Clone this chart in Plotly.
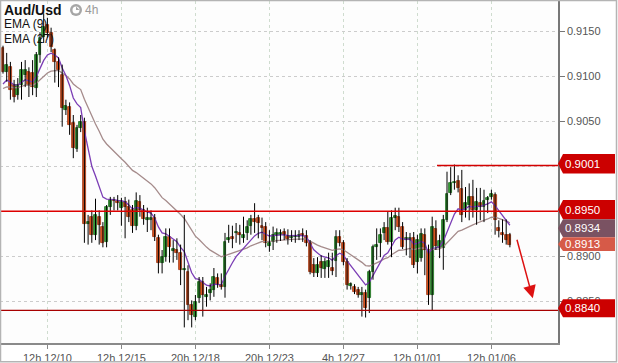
import plotly.graph_objects as go

# ---------------- data ----------------
tick_idx = [12, 32, 52, 72, 92, 112, 132]
tick_text = ["12h 12/10", "12h 12/15", "20h 12/18", "20h 12/23", "4h 12/27", "12h 01/01", "12h 01/06"]

opens = [
    .9131, .9105, .9110, .9090, .9079, .9090, .9101, .9105, .9104, .9087,
    .9124, .9144, .9157, .9148, .9129, .9116, .9101, .9063, .9066, .9048,
    .9019, .9043, .9049, .8936, .8944, .8924, .8944, .8933, .8916, .8955,
    .8963, .8962, .8954, .8960, .8955, .8951, .8934, .8960, .8951, .8941,
    .8940, .8943, .8920, .8893, .8899, .8921, .8906, .8907, .8904, .8885,
    .8883, .8846, .8833, .8854, .8871, .8855, .8859, .8863, .8876, .8868,
    .8866, .8918, .8921, .8926, .8926, .8920, .8926, .8934, .8941, .8943,
    .8934, .8933, .8911, .8916, .8924, .8924, .8927, .8923, .8920, .8921,
    .8921, .8924, .8923, .8915, .8890, .8881, .8894, .8886, .8888, .8887,
    .8895, .8921, .8915, .8894, .8867, .8866, .8863, .8857, .8859, .8854,
    .8883, .8910, .8915, .8926, .8931, .8916, .8943, .8944, .8933, .8918,
    .8918, .8920, .8894, .8898, .8924, .8907, .8857, .8930, .8909, .8909,
    .8940, .8970, .8981, .8984, .8975, .8951, .8957, .8966, .8951, .8959,
    .8955, .8963, .8966, .8968, .8931, .8926, .8924, .8924]

highs = [
    .9134, .9126, .9116, .9096, .9098, .9116, .9118, .9110, .9118, .9127,
    .9149, .9170, .9165, .9154, .9131, .9121, .9113, .9074, .9071, .9057,
    .9046, .9057, .9054, .8946, .8951, .8964, .8951, .8938, .8957, .8966,
    .8966, .8968, .8965, .8966, .8963, .8957, .8971, .8968, .8957, .8954,
    .8951, .8947, .8924, .8907, .8931, .8931, .8918, .8920, .8913, .8946,
    .8890, .8851, .8857, .8877, .8877, .8866, .8870, .8887, .8881, .8881,
    .8926, .8935, .8934, .8937, .8935, .8944, .8940, .8946, .8959, .8946,
    .8943, .8938, .8929, .8933, .8931, .8930, .8931, .8930, .8929, .8929,
    .8929, .8931, .8929, .8918, .8898, .8899, .8901, .8898, .8904, .8904,
    .8929, .8929, .8918, .8898, .8871, .8869, .8866, .8866, .8863, .8885,
    .8913, .8931, .8931, .8938, .8950, .8951, .8954, .8954, .8938, .8927,
    .8926, .8927, .8924, .8931, .8931, .8913, .8944, .8940, .8924, .8946,
    .8994, .8999, .9002, .8990, .8996, .8977, .8981, .8985, .8976, .8976,
    .8974, .8967, .8974, .8971, .8940, .8941, .8941, .8926]

lows = [
    .9103, .9094, .9074, .9071, .9074, .9074, .9088, .9077, .9079, .9077,
    .9115, .9137, .9143, .9127, .9093, .9088, .9044, .9057, .9035, .9009,
    .9016, .9038, .8915, .8913, .8915, .8918, .8913, .8910, .8910, .8946,
    .8951, .8951, .8934, .8920, .8938, .8926, .8929, .8944, .8935, .8927,
    .8929, .8917, .8881, .8881, .8894, .8893, .8893, .8896, .8868, .8821,
    .8829, .8821, .8829, .8848, .8833, .8844, .8851, .8855, .8865, .8863,
    .8854, .8915, .8909, .8915, .8913, .8915, .8918, .8924, .8926, .8920,
    .8918, .8910, .8905, .8907, .8915, .8917, .8918, .8913, .8916, .8915,
    .8918, .8916, .8911, .8880, .8877, .8877, .8876, .8876, .8876, .8879,
    .8877, .8911, .8890, .8863, .8863, .8858, .8854, .8833, .8832, .8837,
    .8874, .8896, .8899, .8918, .8913, .8899, .8929, .8927, .8908, .8901,
    .8898, .8887, .8881, .8894, .8879, .8846, .8840, .8907, .8898, .8885,
    .8938, .8968, .8974, .8971, .8938, .8943, .8940, .8943, .8935, .8940,
    .8938, .8948, .8963, .8924, .8921, .8915, .8913, .8910]

closes = [
    .9105, .9113, .9085, .9077, .9090, .9107, .9107, .9090, .9088, .9124,
    .9143, .9155, .9148, .9133, .9116, .9107, .9065, .9067, .9046, .9020,
    .9043, .9049, .8936, .8938, .8924, .8946, .8935, .8915, .8955, .8963,
    .8961, .8959, .8960, .8955, .8944, .8934, .8961, .8951, .8941, .8942,
    .8943, .8921, .8893, .8899, .8921, .8910, .8908, .8904, .8885, .8886,
    .8846, .8835, .8849, .8871, .8857, .8857, .8863, .8877, .8868, .8866,
    .8916, .8920, .8919, .8927, .8924, .8924, .8933, .8941, .8938, .8937,
    .8932, .8915, .8915, .8924, .8926, .8926, .8924, .8919, .8923, .8923,
    .8924, .8923, .8915, .8883, .8881, .8890, .8887, .8894, .8895, .8884,
    .8921, .8915, .8894, .8868, .8869, .8860, .8857, .8859, .8843, .8883,
    .8910, .8913, .8924, .8931, .8916, .8943, .8944, .8933, .8910, .8920,
    .8920, .8890, .8918, .8925, .8907, .8857, .8933, .8911, .8917, .8940,
    .8969, .8981, .8983, .8976, .8946, .8959, .8966, .8951, .8960, .8955,
    .8961, .8965, .8969, .8940, .8928, .8924, .8918, .8913]

ema9_seed = 0.9088
ema27_seed = 0.9085

levels = [0.9001, 0.8950, 0.8840]
price_tags = ["0.9001", "0.8950", "0.8934", "0.8913", "0.8840"]
y_ticks = [0.8850, 0.8900, 0.8950, 0.9000, 0.9050, 0.9100, 0.9150]
y_tick_text = ["0.8850", "0.8900", "", "", "0.9050", "0.9100", "0.9150"]

# ---------------- derived ----------------
n = len(closes)
idx = list(range(n))


def ema(vals, period, seed):
    a = 2.0 / (period + 1)
    out, prev = [], seed
    for v in vals:
        prev = prev + a * (v - prev)
        out.append(prev)
    return out


ema9 = ema(closes, 9, ema9_seed)
ema27 = ema(closes, 27, ema27_seed)

wx, wy = [], []
for i in idx:
    wx += [i, i, None]
    wy += [lows[i], highs[i], None]

MIN_BODY = 0.00015
base, height, fill, edge = [], [], [], []
for i in idx:
    lo, hi = min(opens[i], closes[i]), max(opens[i], closes[i])
    if hi - lo < MIN_BODY:
        mid = (hi + lo) / 2
        lo, hi = mid - MIN_BODY / 2, mid + MIN_BODY / 2
    base.append(lo)
    height.append(hi - lo)
    up = closes[i] >= opens[i]
    fill.append("#35a035" if up else "#dc5520")
    edge.append("#1d6b1d" if up else "#9c3312")

FONT = "Liberation Sans, Arial, sans-serif"
W, H = 618, 363
ML, MR, MT, MB = 0, 60, 1, 20
PW, PH = W - ML - MR, H - MT - MB


def xp(px):
    return (px - ML) / PW


def yp(py):
    return (H - MB - py) / PH


fig = go.Figure()

fig.add_trace(go.Scatter(x=idx, y=ema27, mode="lines",
                         line=dict(color="#a58b8b", width=1.3), hoverinfo="skip"))
fig.add_trace(go.Scatter(x=idx, y=ema9, mode="lines",
                         line=dict(color="#7b3db5", width=1.3), hoverinfo="skip"))
fig.add_trace(go.Scatter(x=wx, y=wy, mode="lines",
                         line=dict(color="#000000", width=1), hoverinfo="skip"))
fig.add_trace(go.Bar(x=idx, y=height, base=base, width=0.78,
                     marker=dict(color=fill, line=dict(color=edge, width=0.8))))

shapes = []
shapes.append(dict(type="line", xref="paper", yref="y", x0=xp(437), x1=1, y0=levels[0], y1=levels[0],
                   line=dict(color="#d40000", width=1.5), layer="above"))
shapes.append(dict(type="line", xref="paper", yref="y", x0=0, x1=1, y0=levels[1], y1=levels[1],
                   line=dict(color="#dd0000", width=1.6), layer="above"))
shapes.append(dict(type="line", xref="paper", yref="y", x0=0, x1=1, y0=levels[2], y1=levels[2],
                   line=dict(color="#a80000", width=1.2), layer="above"))

tag_boxes = [(0.90137, 0.89919, "#cc0000"),
             (0.89626, 0.89411, "#cc0000"),
             (0.89411, 0.89211, "#7a5262"),
             (0.89211, 0.89059, "#d65a48"),
             (0.88522, 0.88322, "#cc0000")]
x_tip, x_sh, x_end = xp(558), xp(563), xp(615)
for (top, bot, col), txt in zip(tag_boxes, price_tags):
    mid = (top + bot) / 2
    path = (f"M {x_tip} {mid} L {x_sh} {top} L {x_end} {top} L {x_end} {bot} "
            f"L {x_sh} {bot} Z")
    shapes.append(dict(type="path", xref="paper", yref="y", path=path,
                       fillcolor=col, line=dict(width=0), layer="above"))

shapes.append(dict(type="rect", xref="paper", yref="paper", x0=xp(0.5), x1=xp(616.5),
                   y0=yp(361.8), y1=yp(0.5), line=dict(color="#b4b4b4", width=1.5),
                   fillcolor="rgba(0,0,0,0)", layer="above"))

shapes.append(dict(type="circle", xref="paper", yref="paper", x0=xp(70), x1=xp(82),
                   y0=yp(16), y1=yp(4), fillcolor="#a6a6a6", line=dict(width=0), layer="above"))
shapes.append(dict(type="circle", xref="paper", yref="paper", x0=xp(72.5), x1=xp(79.5),
                   y0=yp(13.5), y1=yp(6.5), fillcolor="#ffffff", line=dict(width=0), layer="above"))
shapes.append(dict(type="path", xref="paper", yref="paper",
                   path=f"M {xp(76)} {yp(10)} L {xp(76)} {yp(6.5)} L {xp(79.5)} {yp(10)} Z",
                   fillcolor="#a6a6a6", line=dict(width=0), layer="above"))

annotations = []
for (top, bot, col), txt in zip(tag_boxes, price_tags):
    annotations.append(dict(xref="paper", yref="y", x=xp(563), y=(top + bot) / 2, text=txt,
                            showarrow=False, xanchor="left", yanchor="middle",
                            font=dict(family=FONT, size=11.5, color="#ffffff")))

annotations += [
    dict(xref="paper", yref="paper", x=xp(2), y=yp(10), text="<b>Aud/Usd</b>", showarrow=False,
         xanchor="left", yanchor="middle", font=dict(family=FONT, size=14, color="#111111")),
    dict(xref="paper", yref="paper", x=xp(83), y=yp(10), text="4h", showarrow=False,
         xanchor="left", yanchor="middle", font=dict(family=FONT, size=12, color="#9a9a9a")),
    dict(xref="paper", yref="paper", x=xp(2), y=yp(24), text="EMA (9)", showarrow=False,
         xanchor="left", yanchor="middle", font=dict(family=FONT, size=12, color="#111111")),
    dict(xref="paper", yref="paper", x=xp(2), y=yp(38.5), text="EMA (27)", showarrow=False,
         xanchor="left", yanchor="middle", font=dict(family=FONT, size=12, color="#111111")),
    dict(xref="x", yref="y", axref="x", ayref="y", x=143.2, y=0.88533, ax=138.8, ay=0.8920,
         text="", showarrow=True, arrowhead=2, arrowsize=1.7, arrowwidth=1.5, arrowcolor="#dd1111"),
]

x_range = [-3 / 3.7, (PW - 3) / 3.7]
y_range = [0.9 - (PH + MT - 166.3) / 9000, 0.9 + (166.3 - MT) / 9000]

fig.update_layout(
    width=W, height=H, margin=dict(l=ML, r=MR, t=MT, b=MB),
    paper_bgcolor="#ffffff", plot_bgcolor="#fdfdfd",
    showlegend=False, bargap=0, shapes=shapes, annotations=annotations,
    font=dict(family=FONT, size=11, color="#555555"),
    xaxis=dict(range=x_range, tickmode="array", tickvals=tick_idx, ticktext=tick_text,
               showgrid=True, gridcolor="#cfdccf", griddash="dot", gridwidth=1,
               ticks="outside", ticklen=4, tickcolor="#888888",
               showline=True, linecolor="#8a8a8a", linewidth=1.5, zeroline=False,
               tickfont=dict(family=FONT, size=11, color="#555555"), fixedrange=True),
    yaxis=dict(range=y_range, side="right", tickmode="array", tickvals=y_ticks,
               ticktext=y_tick_text,
               showgrid=True, gridcolor="#cccccc", griddash="dot", gridwidth=1,
               ticks="outside", ticklen=5, tickcolor="#777777",
               showline=True, linecolor="#777777", linewidth=1.5, zeroline=False,
               tickfont=dict(family=FONT, size=11, color="#555555"), fixedrange=True),
)

fig.write_html("out.html", config={"displayModeBar": False},
               post_script="document.body.style.margin='0';document.body.style.overflow='hidden';")
